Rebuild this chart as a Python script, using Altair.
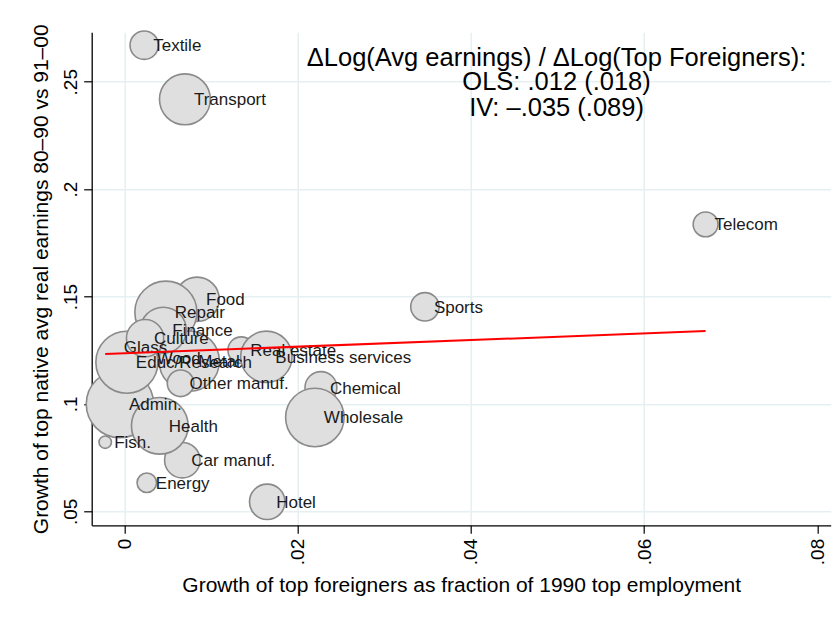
import altair as alt
import pandas as pd

# ---- data ----
industries = ["Fish.", "Glass", "Wood", "Admin.", "Textile", "Transport", "Telecom",
              "Sports", "Educ/Research", "Food", "Repair", "Metal", "Finance", "Culture",
              "Other manuf.", "Car manuf.", "Health", "Energy", "Hotel", "Chemical",
              "Wholesale", "Real estate", "Business services"]
foreign_growth = [-0.0022, -0.0011, 0.0027, -0.0005, 0.0023, 0.0070, 0.0671,
                  0.0347, 0.0003, 0.0084, 0.0048, 0.0075, 0.0045, 0.0024,
                  0.0065, 0.0067, 0.0041, 0.0026, 0.0165, 0.0227,
                  0.0220, 0.0135, 0.0164]
earnings_growth = [0.0822, 0.1264, 0.1213, 0.0999, 0.2670, 0.2418, 0.1836,
                   0.1452, 0.1194, 0.1487, 0.1427, 0.1199, 0.1343, 0.1306,
                   0.1096, 0.0738, 0.0898, 0.0633, 0.0544, 0.1076,
                   0.0937, 0.1250, 0.1219]
emp_weight = [0.49, 1.44, 1.96, 14.44, 2.56, 8.24, 1.96,
              2.56, 12.25, 6.25, 12.25, 11.56, 6.76, 4.41,
              2.25, 4.00, 10.24, 1.21, 4.00, 3.24,
              10.89, 2.25, 8.41]

fit_x = [-0.0022, 0.0671]
fit_y = [0.1232, 0.1339]

ann_text = ["\u0394Log(Avg earnings) / \u0394Log(Top Foreigners):",
            "OLS: .012 (.018)",
            "IV: \u2013.035 (.089)"]
ann_x = [0.0499, 0.0499, 0.0499]
ann_y = [0.2612, 0.2497, 0.2378]

x_ticks = [0, 0.02, 0.04, 0.06, 0.08]
y_ticks = [0.05, 0.10, 0.15, 0.20, 0.25]

FONT = "Liberation Sans"
W, H = 739, 493

df = pd.DataFrame({"ind": industries, "x": foreign_growth,
                   "y": earnings_growth, "w": emp_weight,
                   "order": list(range(len(industries)))})
fit = pd.DataFrame({"x": fit_x, "y": fit_y})
ann = pd.DataFrame({"x": ann_x, "y": ann_y, "t": ann_text})

lab_expr = "datum.value == 0 ? '0' : slice(format(datum.value, '.2~f'), 1)"

xscale = alt.Scale(domain=[-0.00376, 0.08154], nice=False, zero=False)
yscale = alt.Scale(domain=[0.04348, 0.27301], nice=False, zero=False)

xaxis = alt.Axis(values=x_ticks, labelExpr=lab_expr, labelAngle=270,
                 labelAlign="right", labelBaseline="middle", labelFontSize=19,
                 labelPadding=5, labelFont=FONT, labelColor="black",
                 tickSize=8, tickColor="black", tickWidth=1.2,
                 domainColor="black", domainWidth=1.3,
                 gridColor="#E6EFF1", gridWidth=1.5,
                 gridOpacity={"condition": {"test": "datum.value >= 0.079", "value": 0}, "value": 1},
                 title="Growth of top foreigners as fraction of 1990 top employment",
                 titleFont=FONT, titleFontSize=21, titleFontWeight="normal",
                 titleColor="black", titleX=W / 2, titleY=60,
                 titleAlign="center", titleBaseline="middle")
yaxis = alt.Axis(values=y_ticks, labelExpr=lab_expr, labelAngle=270,
                 labelAlign="center", labelBaseline="alphabetic", labelFontSize=19,
                 labelPadding=7.5, labelFont=FONT, labelColor="black",
                 tickSize=8, tickColor="black", tickWidth=1.2,
                 domainColor="black", domainWidth=1.3,
                 gridColor="#E6EFF1", gridWidth=1.5,
                 title="Growth of top native avg real earnings 80\u201390 vs 91\u201300",
                 titleFont=FONT, titleFontSize=21, titleFontWeight="normal",
                 titleColor="black", titleAngle=270, titleX=-50, titleY=H / 2,
                 titleAlign="center", titleBaseline="middle")

bubbles = alt.Chart(df).mark_circle(
    fill="#DFDFDF", stroke="#8A8A8A", strokeWidth=1.6, opacity=1, fillOpacity=1
).encode(
    x=alt.X("x:Q", scale=xscale, axis=xaxis),
    y=alt.Y("y:Q", scale=yscale, axis=yaxis),
    size=alt.Size("w:Q", scale=alt.Scale(type="linear", domain=[0, 16], range=[0, 16 * 314.159]),
                  legend=None),
    order=alt.Order("order:Q"),
)

labels = alt.Chart(df).mark_text(
    align="left", baseline="middle", dx=9, dy=1, fontSize=17, font=FONT, color="#1a1a1a"
).encode(
    x=alt.X("x:Q", scale=xscale),
    y=alt.Y("y:Q", scale=yscale),
    text="ind:N",
)

line = alt.Chart(fit).mark_line(color="#FF0000", strokeWidth=2).encode(
    x=alt.X("x:Q", scale=xscale),
    y=alt.Y("y:Q", scale=yscale),
)

annot = alt.Chart(ann).mark_text(
    align="center", baseline="middle", fontSize=25.5, font=FONT, color="black"
).encode(
    x=alt.X("x:Q", scale=xscale),
    y=alt.Y("y:Q", scale=yscale),
    text="t:N",
)

chart = alt.layer(bubbles, labels, line, annot).properties(
    width=W, height=H,
    autosize=alt.AutoSizeParams(type="none"),
    padding={"left": 83.7, "top": 24.3, "right": 1, "bottom": 80},
    background="white",
).configure_view(stroke=None)

chart.save("out.html", embed_options={"renderer": "svg", "actions": False})
